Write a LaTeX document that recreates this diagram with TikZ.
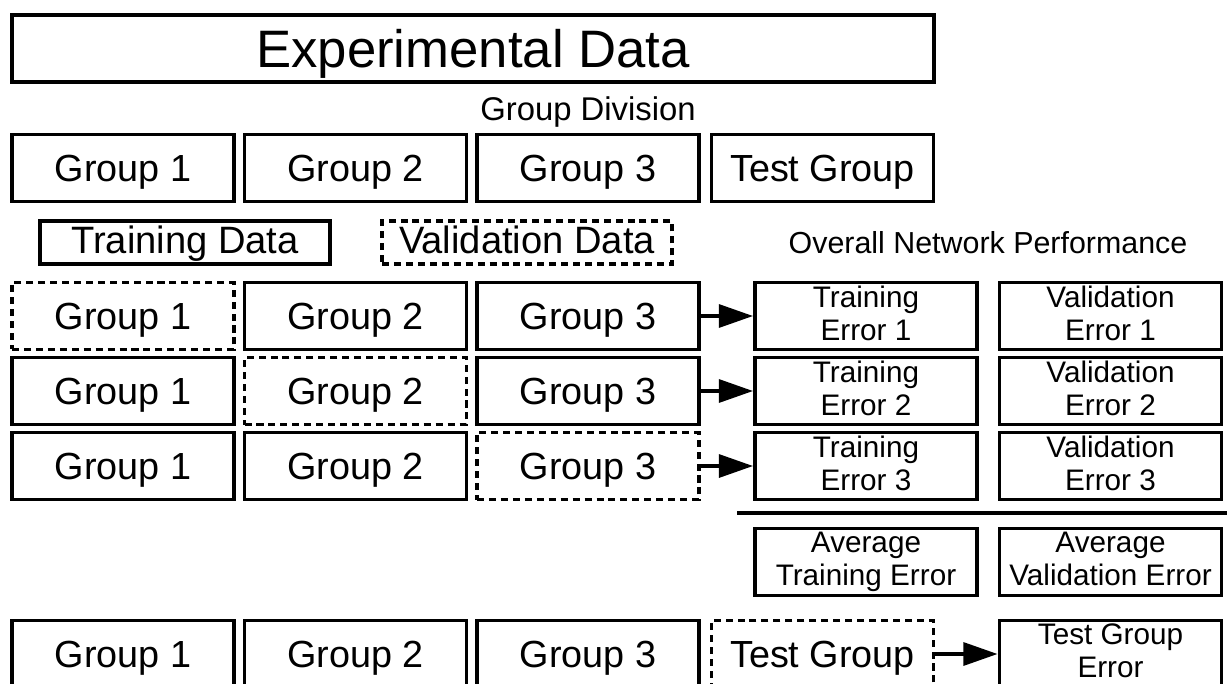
\documentclass[tikz,border=0pt]{standalone}
\usepackage{fontspec}
\setmainfont{Liberation Sans}
\usetikzlibrary{arrows.meta}

\tikzset{
box/.style ={draw, line width=2.2pt, inner sep=0pt, align=center},
databox/.style ={box, minimum width=4.44cm, minimum height=1.34cm, font=\fontsize{21.5}{24}\selectfont, text height=15.4pt, text depth=0pt},
valbox/.style ={databox, dashed, dash pattern=on 4pt off 2.8pt},
errbox/.style ={box, minimum width=4.44cm, minimum height=1.34cm, font=\fontsize{16.9}{18.7}\selectfont, execute at begin node={\rule{0pt}{18.1pt}}, execute at end node={\vphantom{g}}},
keybox/.style ={box, minimum width=5.8cm, minimum height=0.86cm, font=\fontsize{21.7}{24}\selectfont, text height=15.5pt, text depth=2.8pt},
result/.style ={line width=2.2pt, -{Triangle[length=19.5pt, width=13pt]}},
}

\begin{document}
\begin{tikzpicture}[x=0.02cm, y=-0.02cm]
\useasboundingbox (0,0) rectangle (1227,683);

% whole data set and its split
\node[box, minimum width=18.44cm, minimum height=1.34cm, font=\fontsize{30}{34}\selectfont, text height=21.5pt, text depth=0pt] (data) at (473,48.5) {Experimental Data};
\node[font=\fontsize{18.7}{21}\selectfont, text height=13.4pt, text depth=0pt] (division) at (588,109) {Group Division};
\node[databox] (top-g1) at (123,168) {Group 1};
\node[databox] (top-g2) at (355.5,168) {Group 2};
\node[databox] (top-g3) at (588,168) {Group 3};
\node[databox] (top-test) at (822.5,168) {Test Group};

% legend
\node[keybox] (key-train) at (185,242.5) {Training Data};
\node[keybox, dashed, dash pattern=on 4pt off 2.8pt] (key-val) at (527,242.5) {Validation Data};
\node[font=\fontsize{17.3}{20}\selectfont, text height=12.4pt, text depth=0pt] (overall) at (988,243) {Overall Network Performance};

% one row per fold, the dashed group is held out
\foreach \r/\y in {1/316, 2/391, 3/466} {
	\foreach \g/\x in {1/123, 2/355.5, 3/588} {
		\ifnum\g=\r \def\st{valbox}\else \def\st{databox}\fi
		\node[\st] (g\r-\g) at (\x,\y) {Group \g};
	}
	\node[errbox] (te\r) at (866,\y) {Training\\Error \r};
	\node[errbox] (ve\r) at (1110.5,\y) {Validation\\Error \r};
	\draw[result] (g\r-3.east) -- (te\r.west);
}

% averages
\coordinate (rule-l) at (737,513);
\coordinate (rule-r) at (1227,513);
\draw[line width=2.2pt] (rule-l) -- (rule-r);
\node[errbox] (avg-train) at (866,562) {Average\\Training Error};
\node[errbox] (avg-val) at (1110.5,562) {Average\\Validation Error};

% final test
\node[databox] (fin-g1) at (123,654) {Group 1};
\node[databox] (fin-g2) at (355.5,654) {Group 2};
\node[databox] (fin-g3) at (588,654) {Group 3};
\node[valbox] (fin-test) at (822.5,654) {Test Group};
\node[errbox] (test-err) at (1110.5,654) {Test Group\\Error};
\draw[result] (fin-test.east) -- (test-err.west);
\end{tikzpicture}
\end{document}
